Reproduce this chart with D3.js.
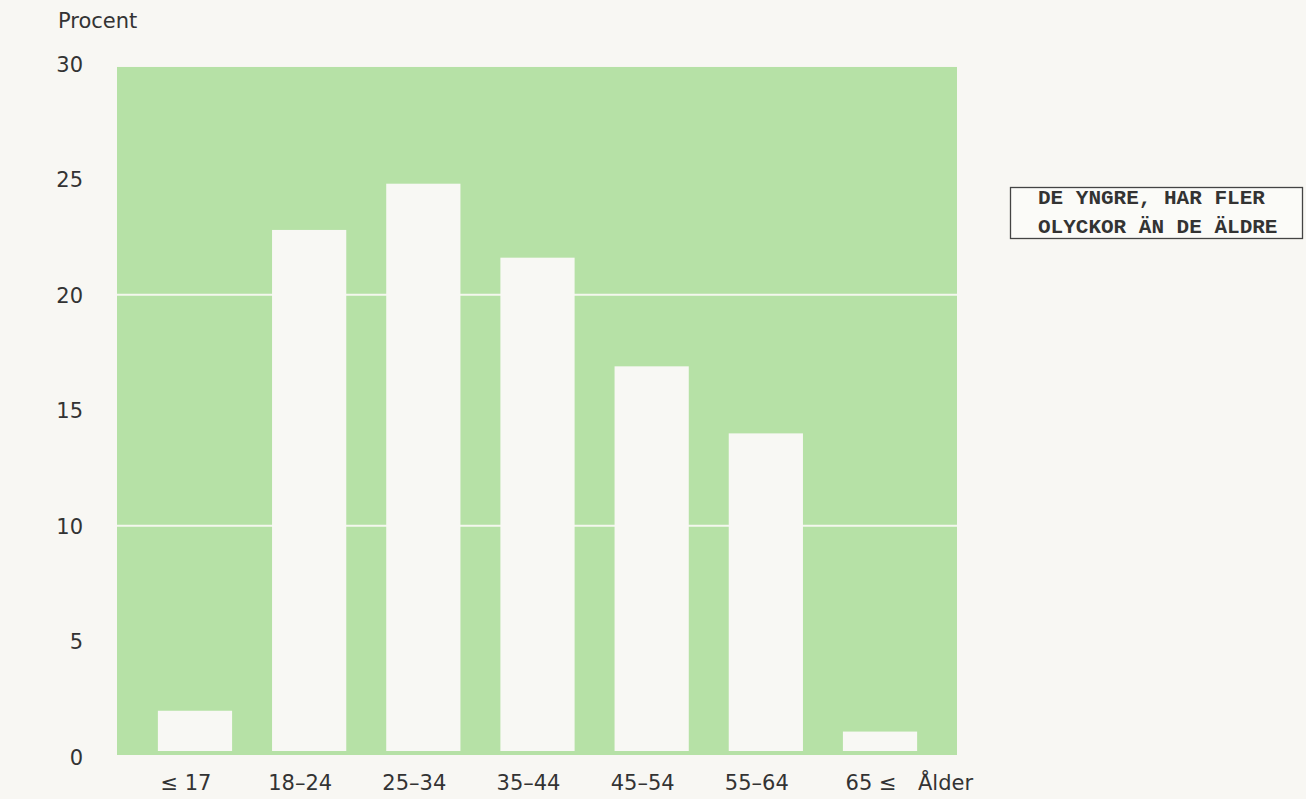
<!DOCTYPE html>
<html>
<head>
<meta charset="utf-8">
<script src="https://cdn.jsdelivr.net/npm/d3@7"></script>
<style>
  html, body { margin: 0; padding: 0; background: #f8f7f3; }
  svg { display: block; }
</style>
</head>
<body>
<svg id="chart" width="1306" height="799"></svg>
<script>
// ---- data ----
const categories = ["≤ 17", "18–24", "25–34", "35–44", "45–54", "55–64", "65 ≤"];
const values = [2.0, 22.8, 24.8, 21.6, 16.9, 14.0, 1.1];
const yTicks = [0, 5, 10, 15, 20, 25, 30];
const gridValues = [10, 20];
const yTitle = "Procent";
const xTitle = "Ålder";
const noteLines = ["DE YNGRE, HAR FLER", "OLYCKOR ÄN DE ÄLDRE"];

// ---- layout ----
const svg = d3.select("#chart");
const green = "#b6e1a6";
const barFill = "#f8f8f4";
const textCol = "#333333";
const font = "'DejaVu Sans', 'Liberation Sans', Arial, sans-serif";

const y = d3.scaleLinear().domain([0, 30]).range([757, 63.5]);
const x = d3.scaleBand().domain(categories)
  .range([137.9, 937.1]).paddingInner(0.35).paddingOuter(0.175);

// green panel
svg.append("rect")
  .attr("x", 117).attr("y", y(29.85))
  .attr("width", 957 - 117).attr("height", 755 - y(29.85))
  .attr("fill", green);

// white gridlines
svg.selectAll("line.grid").data(gridValues).enter().append("line")
  .attr("class", "grid")
  .attr("x1", 117).attr("x2", 957)
  .attr("y1", d => y(d)).attr("y2", d => y(d))
  .attr("stroke", "#f4f7ee").attr("stroke-width", 2);

// bars
svg.selectAll("rect.bar").data(values).enter().append("rect")
  .attr("class", "bar")
  .attr("x", (d, i) => x(categories[i]))
  .attr("width", x.bandwidth())
  .attr("y", d => y(d))
  .attr("height", d => 751 - y(d))
  .attr("fill", barFill);

// y axis labels
const yAxis = d3.axisLeft(y).tickValues(yTicks).tickSize(0).tickPadding(0);
const yg = svg.append("g").attr("transform", "translate(83,0)").call(yAxis);
yg.select(".domain").remove();
yg.selectAll("text")
  .attr("font-family", font).attr("font-size", 21)
  .attr("fill", textCol).attr("dy", "0.36em");

svg.append("text")
  .attr("x", 58).attr("y", 28)
  .attr("font-family", font).attr("font-size", 21)
  .attr("fill", textCol).text(yTitle);

// x axis labels
const xAxis = d3.axisBottom(x).tickSize(0).tickPadding(0);
const xg = svg.append("g").attr("transform", "translate(-9,775)").call(xAxis);
xg.select(".domain").remove();
xg.selectAll("text")
  .attr("font-family", font).attr("font-size", 21)
  .attr("fill", textCol).attr("dy", "0.72em");

svg.append("text")
  .attr("x", 918).attr("y", 790)
  .attr("font-family", font).attr("font-size", 21)
  .attr("fill", textCol).text(xTitle);

// annotation box
svg.append("rect")
  .attr("x", 1010.5).attr("y", 187.5)
  .attr("width", 292).attr("height", 51)
  .attr("fill", "#fbfbf8").attr("stroke", "#444").attr("stroke-width", 1.3);
svg.selectAll("text.note").data(noteLines).enter().append("text")
  .attr("class", "note")
  .attr("x", 1038).attr("y", (d, i) => 204 + i * 29)
  .attr("font-family", "'Liberation Mono', 'Courier New', monospace")
  .attr("font-weight", "bold").attr("font-size", 21)
  .attr("fill", "#333").text(d => d);
</script>
</body>
</html>
